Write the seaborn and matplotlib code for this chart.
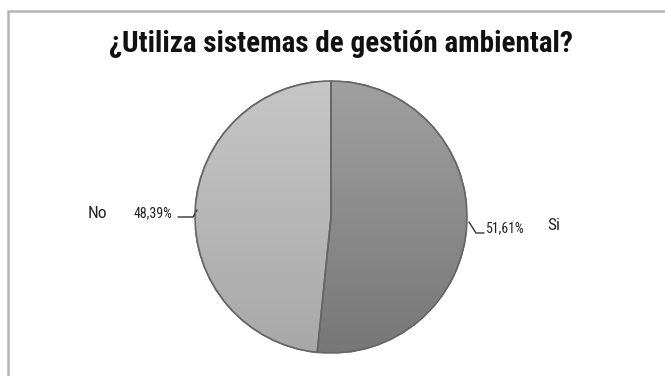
import numpy as np
import matplotlib
matplotlib.use("Agg")
import matplotlib.pyplot as plt
from matplotlib.patches import Rectangle, Wedge
from matplotlib import font_manager
import seaborn as sns

categories = ["Si", "No"]
values = [51.61, 48.39]
value_labels = ["51,61%", "48,39%"]
title = "¿Utiliza sistemas de gestión ambiental?"

sns.set_theme(style="white")
plt.rcParams['font.family'] = ['DejaVu Sans']

installed = {f.name for f in font_manager.fontManager.ttflist}
cond = None
for cand in ["Roboto Condensed", "DejaVu Sans Condensed", "Open Sans Condensed", "Liberation Sans Narrow"]:
    if cand in installed:
        cond = cand
        break

W, H = 665, 376
fig = plt.figure(figsize=(W / 100, H / 100), dpi=100)
fig.patch.set_facecolor("white")

# frame
fig.add_artist(Rectangle((8 / W, -0.1), 1.2, (H - 11) / H + 0.1, transform=fig.transFigure,
                         fill=False, edgecolor="#b4b4b4", lw=1.8))

cx, cy, r = 331, 217, 136
ax = fig.add_axes([(cx - r) / W, (H - cy - r) / H, 2 * r / W, 2 * r / H])
ax.set_facecolor("none")

colors = ["#8e8e8e", "#bababa"]
wedges, _ = ax.pie(values, colors=colors, startangle=90, counterclock=False, radius=1,
                   wedgeprops=dict(edgecolor="#6a6a6a", linewidth=1.2))
ax.set_xlim(-1, 1)
ax.set_ylim(-1, 1)
ax.set_aspect("equal")
ax.axis("off")

# vertical shading gradient inside each slice
grads = [("#a0a0a0", "#777777"), ("#c6c6c6", "#a8a8a8")]
for w, (top, bot) in zip(wedges, grads):
    t = np.linspace(0, 1, 256)[:, None]
    c1 = np.array(matplotlib.colors.to_rgb(top))
    c2 = np.array(matplotlib.colors.to_rgb(bot))
    img = (c1 * (1 - t) + c2 * t)[:, None, :].repeat(2, axis=1)
    im = ax.imshow(img, extent=(-1, 1, -1, 1), origin="upper", zorder=w.get_zorder() + 0.1,
                   aspect="auto")
    im.set_clip_path(w)
for w in wedges:
    ax.add_patch(Wedge(w.center, w.r, w.theta1, w.theta2, fill=False,
                       edgecolor="#666666", lw=1.2, zorder=5))
ax.set_xlim(-1, 1)
ax.set_ylim(-1, 1)

if cond:
    tfam, tsize, lfam, ps, cs = [cond, "DejaVu Sans"], 21, [cond, "DejaVu Sans"], 10, 12.5
else:
    tfam, tsize, lfam, ps, cs = ["DejaVu Sans"], 14.8, ["DejaVu Sans"], 8.5, 11

fig.text(341 / W, 1 - 44 / H, title, ha="center", va="center", fontsize=tsize,
         color="#111111", fontweight="bold", family=tfam)

def d(px, py):
    return ((px - cx) / r, (cy - py) / r)

lab = dict(ha="center", va="center", color="#222222", family=lfam)
# Si label
ax.text(*d(505, 228), value_labels[0], fontsize=ps, **lab)
ax.text(*d(554, 226), categories[0], fontsize=cs, **lab)
p = [d(469, 222), d(476, 233), d(484, 233)]
ax.plot([q[0] for q in p], [q[1] for q in p], color="#333333", lw=1, clip_on=False)

# No label
ax.text(*d(153, 213), value_labels[1], fontsize=ps, **lab)
ax.text(*d(97, 213), categories[1], fontsize=cs, **lab)
p = [d(178, 217), d(193, 217), d(197, 210)]
ax.plot([q[0] for q in p], [q[1] for q in p], color="#333333", lw=1, clip_on=False)

fig.savefig("out.png", dpi=100, facecolor="white")
